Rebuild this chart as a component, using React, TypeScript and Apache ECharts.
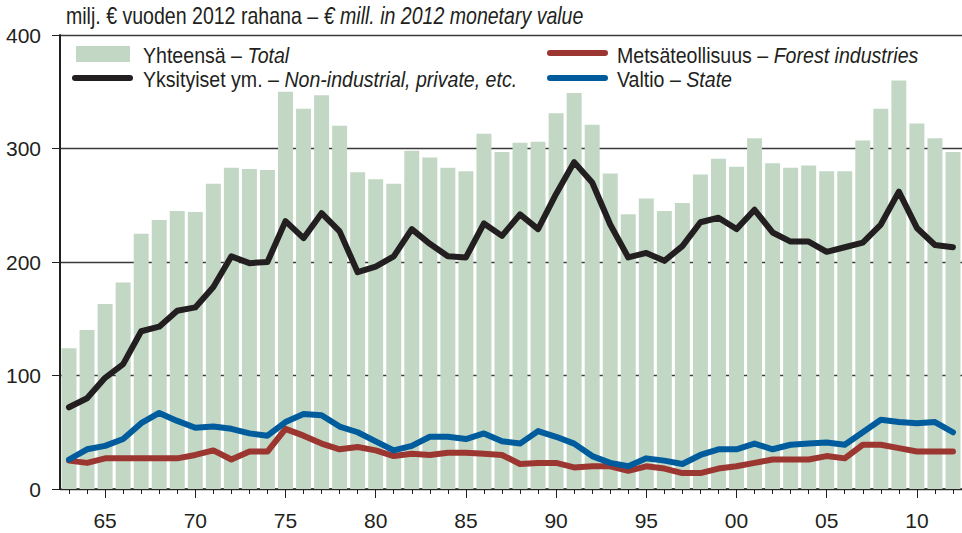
import React, { useEffect, useRef } from "react";
import * as echarts from "echarts";

const years: string[] = [];
for (let y = 1963; y <= 2012; y++) years.push(String(y));

const total = [
  124, 140, 163, 182, 225, 237, 245, 244, 269, 283,
  282, 281, 350, 335, 347, 320, 279, 273, 269, 298,
  292, 283, 280, 313, 297, 305, 306, 331, 349, 321,
  278, 242, 256, 245, 252, 277, 291, 284, 309, 287,
  283, 285, 280, 280, 307, 335, 360, 322, 309, 297,
];

const private_ = [
  72, 80, 98, 110, 139, 143, 157, 160, 178, 205,
  199, 200, 236, 221, 243, 227, 191, 196, 205, 229,
  216, 205, 204, 234, 223, 242, 229, 260, 288, 270,
  233, 204, 208, 201, 214, 235, 239, 229, 246, 226,
  218, 218, 209, 213, 217, 233, 262, 230, 215, 213,
];

const forest = [
  25, 23, 27, 27, 27, 27, 27, 30, 34, 26,
  33, 33, 53, 47, 40, 35, 37, 34, 29, 31,
  30, 32, 32, 31, 30, 22, 23, 23, 19, 20,
  20, 16, 20, 18, 14, 14, 18, 20, 23, 26,
  26, 26, 29, 27, 39, 39, 36, 33, 33, 33,
];

const state = [
  26, 35, 38, 44, 58, 67, 60, 54, 55, 53,
  49, 47, 59, 66, 65, 55, 50, 42, 34, 38,
  46, 46, 44, 49, 42, 40, 51, 46, 40, 29,
  23, 20, 27, 25, 22, 30, 35, 35, 40, 35,
  39, 40, 41, 39, 50, 61, 59, 58, 59, 50,
];

const yTicks = [0, 100, 200, 300, 400];

const titleParts = ["milj. € vuoden 2012 rahana – ", "€ mill. in 2012 monetary value"];
const seriesNames = ["Yhteensä", "Yksityiset ym.", "Metsäteollisuus", "Valtio"];
const seriesEnglish = ["Total", "Non-industrial, private, etc.", "Forest industries", "State"];

const FONT = "'Liberation Sans', Arial, sans-serif";
const INK = "#231f20";

const GREEN = "#c2d8c5";
const BLACK = "#231f20";
const RED = "#9c3631";
const BLUE = "#005c9c";

function richText(parts: [string, string], x: number, y: number, size: number, scaleX: number) {
  return {
    type: "text",
    x,
    y,
    scaleX,
    silent: true,
    style: {
      text: `{n|${parts[0]}}{i|${parts[1]}}`,
      verticalAlign: "middle",
      align: "left",
      rich: {
        n: { fontFamily: FONT, fontSize: size, fill: INK, color: INK },
        i: { fontFamily: FONT, fontSize: size, fontStyle: "italic", fill: INK, color: INK },
      },
    },
  };
}

function legendLine(x1: number, x2: number, y: number, color: string) {
  return {
    type: "line",
    silent: true,
    shape: { x1, y1: y, x2, y2: y },
    style: { stroke: color, lineWidth: 6, lineCap: "round" },
  };
}

export default function App() {
  const ref = useRef<HTMLDivElement>(null);
  useEffect(() => {
    if (!ref.current) return;
    const chart = echarts.init(ref.current, null, { renderer: "svg" });
    const LS = 22.5;
    const LX = 0.87;
    const option = {
      animation: false,
      backgroundColor: "#ffffff",
      legend: { show: false, data: seriesNames },
      graphic: [
        richText([titleParts[0], titleParts[1]], 66, 16, 24, 0.815),
        // legend
        { type: "rect", silent: true, shape: { x: 76, y: 46, width: 54, height: 16 }, style: { fill: GREEN } },
        legendLine(75, 130, 78, BLACK),
        legendLine(550, 605, 53, RED),
        legendLine(550, 605, 78, BLUE),
        richText([seriesNames[0] + " – ", seriesEnglish[0]], 143, 55, LS, LX),
        richText([seriesNames[1] + " – ", seriesEnglish[1]], 143, 79, LS, LX),
        richText([seriesNames[2] + " – ", seriesEnglish[2]], 617, 55, LS, LX),
        richText([seriesNames[3] + " – ", seriesEnglish[3]], 617, 79, LS, LX),
      ],
      grid: { left: 60, top: 35, width: 905, height: 454, containLabel: false },
      xAxis: [
        {
          type: "category",
          data: years,
          boundaryGap: true,
          axisLine: { show: true, lineStyle: { color: INK, width: 1.5 } },
          axisTick: { show: true, alignWithLabel: true, interval: 0, length: 5, lineStyle: { color: INK, width: 1 } },
          axisLabel: {
            interval: (_i: number, v: string) => Number(v) % 5 === 0,
            formatter: (v: string) => v.slice(-2),
            fontFamily: FONT,
            fontSize: 21,
            color: INK,
            margin: 21,
          },
          splitLine: { show: false },
        },
        {
          type: "category",
          data: years,
          position: "bottom",
          boundaryGap: true,
          axisLine: { show: false },
          axisTick: {
            show: true,
            alignWithLabel: true,
            interval: (_i: number, v: string) => Number(v) % 5 === 0,
            length: 9,
            lineStyle: { color: INK, width: 1 },
          },
          axisLabel: { show: false },
          splitLine: { show: false },
        },
      ],
      yAxis: {
        type: "value",
        min: yTicks[0],
        max: yTicks[yTicks.length - 1],
        interval: 100,
        axisLine: { show: true, lineStyle: { color: INK, width: 2 } },
        axisTick: { show: true, length: 8, lineStyle: { color: INK, width: 1 } },
        axisLabel: { fontFamily: FONT, fontSize: 21, color: INK, margin: 19 },
        splitLine: { show: true, lineStyle: { color: "#3a3a3a", width: 1.3 } },
      },
      series: [
        {
          name: seriesNames[0],
          type: "bar",
          data: total,
          barCategoryGap: "17%",
          itemStyle: { color: GREEN },
          z: 1,
        },
        {
          name: seriesNames[1],
          type: "line",
          data: private_,
          symbol: "none",
          lineStyle: { color: BLACK, width: 6, cap: "round", join: "round" },
          itemStyle: { color: BLACK },
          z: 5,
        },
        {
          name: seriesNames[2],
          type: "line",
          data: forest,
          symbol: "none",
          lineStyle: { color: RED, width: 6, cap: "round", join: "round" },
          itemStyle: { color: RED },
          z: 3,
        },
        {
          name: seriesNames[3],
          type: "line",
          data: state,
          symbol: "none",
          lineStyle: { color: BLUE, width: 6, cap: "round", join: "round" },
          itemStyle: { color: BLUE },
          z: 4,
        },
      ],
    };
    chart.setOption(option as any);
    return () => chart.dispose();
  }, []);
  return (
    <div
      ref={ref}
      style={{ position: "fixed", left: 0, top: 0, width: 962, height: 533, background: "#fff" }}
    />
  );
}
